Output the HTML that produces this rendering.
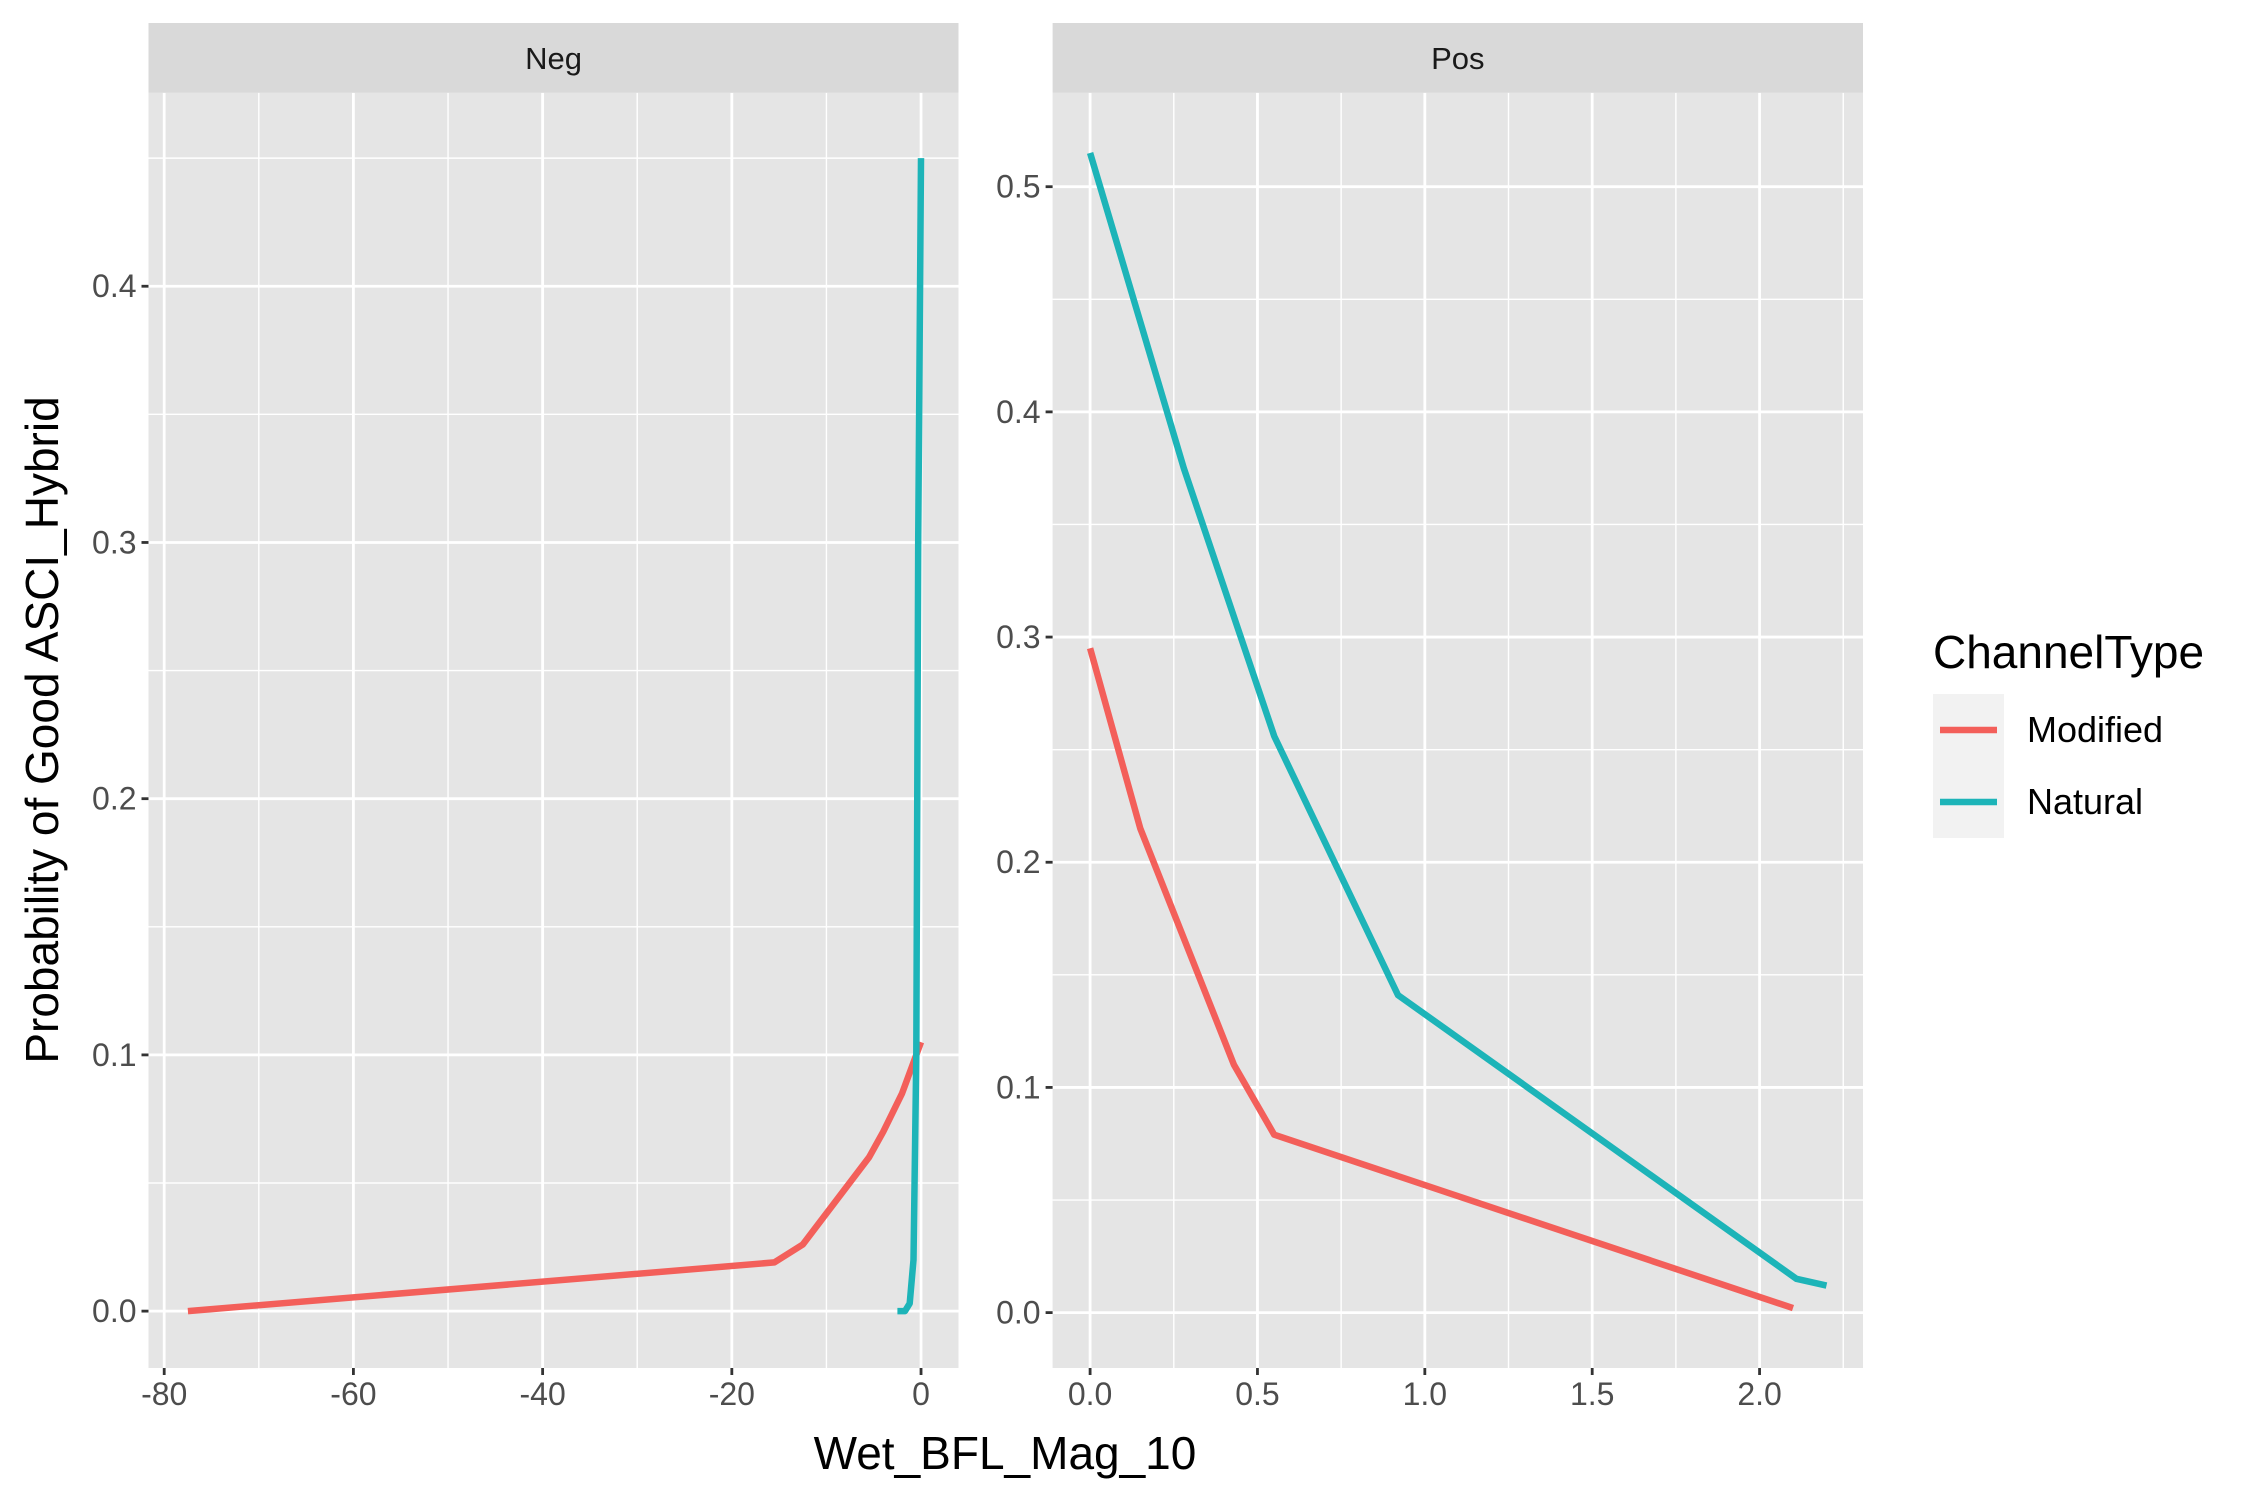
<!DOCTYPE html>
<html><head><meta charset="utf-8"><style>
html,body{margin:0;padding:0;background:#fff}
svg{display:block;font-family:"Liberation Sans",Arial,sans-serif}
</style></head><body>
<svg id="c" width="2250" height="1500" viewBox="0 0 2250 1500"></svg>
<script>
const negModX=[-77.5,-15.5,-12.5,-5.5,-4,-2,0];
const negModY=[0,0.019,0.026,0.060,0.070,0.085,0.105];
const negNatX=[-2.5,-1.7,-1.2,-0.8,-0.5,-0.3,0];
const negNatY=[0,0,0.003,0.02,0.1,0.3,0.45];
const posModX=[0,0.15,0.43,0.55,2.1];
const posModY=[0.295,0.215,0.11,0.079,0.002];
const posNatX=[0,0.28,0.55,0.92,2.11,2.2];
const posNatY=[0.515,0.375,0.256,0.141,0.015,0.012];
const negXTicks=[-80,-60,-40,-20,0];
const negYTicks=[0,0.1,0.2,0.3,0.4];
const posXTicks=[0,0.5,1,1.5,2];
const posYTicks=[0,0.1,0.2,0.3,0.4,0.5];
const RED="#F35F5A",TEAL="#1DB4B8";
const svg=document.getElementById('c');const NS="http://www.w3.org/2000/svg";
function el(t,a,p){const e=document.createElementNS(NS,t);for(const k in a)e.setAttribute(k,a[k]);(p||svg).appendChild(e);return e;}
function fmt(v,d){return v.toFixed(d);}
function panel(name,L,R,T,B,xmin,xmax,ymin,ymax,xt,yt,xd,yd,series){
  const g=el('g',{});
  
  
  const sx=v=>L+(v-xmin)/(xmax-xmin)*(R-L);
  const sy=v=>B-(v-ymin)/(ymax-ymin)*(B-T);
  el('rect',{x:L,y:T,width:R-L,height:B-T,fill:'#E5E5E5'},g);
  const xs=xt[1]-xt[0],ys=yt[1]-yt[0];
  for(let v=xt[0]-xs/2;v<=xmax;v+=xs){if(v<xmin)continue;el('line',{x1:sx(v),x2:sx(v),y1:T,y2:B,stroke:'#fff','stroke-width':1.4},g);}
  for(let v=yt[0]-ys/2;v<=ymax;v+=ys){if(v<ymin)continue;el('line',{y1:sy(v),y2:sy(v),x1:L,x2:R,stroke:'#fff','stroke-width':1.4},g);}
  xt.forEach(v=>{el('line',{x1:sx(v),x2:sx(v),y1:T,y2:B,stroke:'#fff','stroke-width':2.8},g);
    el('line',{x1:sx(v),x2:sx(v),y1:B,y2:B+7,stroke:'#333','stroke-width':2.8},g);
    const t=el('text',{x:sx(v),y:B+37,'text-anchor':'middle','font-size':32,fill:'#4D4D4D'},g);t.textContent=fmt(v,xd);
    
    });
  yt.forEach(v=>{el('line',{y1:sy(v),y2:sy(v),x1:L,x2:R,stroke:'#fff','stroke-width':2.8},g);
    el('line',{y1:sy(v),y2:sy(v),x1:L-7,x2:L,stroke:'#333','stroke-width':2.8},g);
    const t=el('text',{x:L-12,y:sy(v)+11,'text-anchor':'end','font-size':32,fill:'#4D4D4D'},g);t.textContent=fmt(v,yd);
    
    });
  const st=el('rect',{x:L,y:23,width:R-L,height:T-23,fill:'#D9D9D9'},g);
  
  
  const stt=el('text',{x:(L+R)/2,y:69,'text-anchor':'middle','font-size':31,fill:'#1A1A1A'},g);stt.textContent=name;
  
  
  series.forEach(s=>{const d=s.x.map((v,i)=>(i?'L':'M')+sx(v).toFixed(1)+' '+sy(s.y[i]).toFixed(1)).join(' ');
    const p=el('path',{d:d,fill:'none',stroke:s.c,'stroke-width':6.5,'stroke-linejoin':'round'},g);
    
    });
}
panel('Neg',148.5,958.5,92.8,1368,-81.66,3.96,-0.0222,0.4755,negXTicks,negYTicks,0,1,
 [{x:negModX,y:negModY,c:RED,n:'modified'},{x:negNatX,y:negNatY,c:TEAL,n:'natural'}]);
panel('Pos',1052.6,1863,92.8,1368,-0.112,2.309,-0.0246,0.5417,posXTicks,posYTicks,1,1,
 [{x:posModX,y:posModY,c:RED,n:'modified'},{x:posNatX,y:posNatY,c:TEAL,n:'natural'}]);
let t=el('text',{x:1005,y:1469,'text-anchor':'middle','font-size':46,fill:'#000'});t.textContent='Wet_BFL_Mag_10';


t=el('text',{x:0,y:0,'text-anchor':'middle','font-size':46,fill:'#000',transform:'translate(58,730) rotate(-90)'});t.textContent='Probability of Good ASCI_Hybrid';


const lg=el('g',{});


t=el('text',{x:1933,y:668,'font-size':46,fill:'#000'},lg);t.textContent='ChannelType';


el('rect',{x:1933,y:694,width:71,height:144,fill:'#F2F2F2'},lg);
[['Modified',RED,730],['Natural',TEAL,802]].forEach(([n,c,y])=>{
  const l=el('line',{x1:1940,x2:1997,y1:y,y2:y,stroke:c,'stroke-width':6.5},lg);
  
  
  const tx=el('text',{x:2027,y:y+12,'font-size':36,fill:'#000'},lg);tx.textContent=n;
  
  
});
</script>
</body></html>
